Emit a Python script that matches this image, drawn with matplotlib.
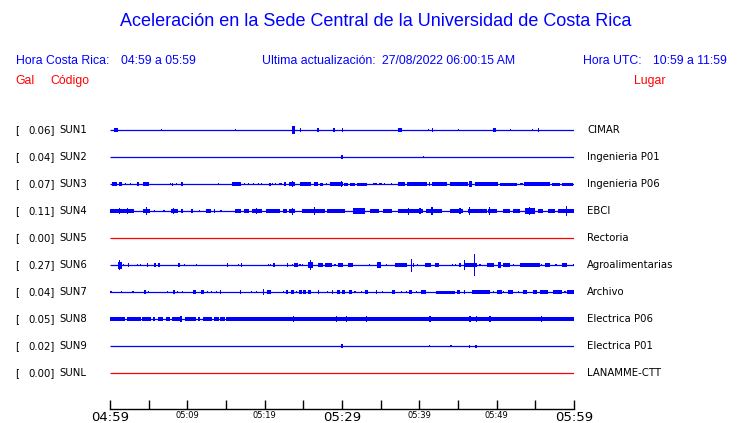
import numpy as np
import matplotlib
matplotlib.use('Agg')
import matplotlib.pyplot as plt
import matplotlib.transforms as mtransforms

# --- data ------------------------------------------------------------------
codes = ['SUN1', 'SUN2', 'SUN3', 'SUN4', 'SUN5', 'SUN6', 'SUN7', 'SUN8', 'SUN9', 'SUNL']
places = ['CIMAR', 'Ingenieria P01', 'Ingenieria P06', 'EBCI', 'Rectoria',
          'Agroalimentarias', 'Archivo', 'Electrica P06', 'Electrica P01', 'LANAMME-CTT']
peak_gal = [0.06, 0.04, 0.07, 0.11, 0.00, 0.27, 0.04, 0.05, 0.02, 0.00]
active = [True, True, True, True, False, True, True, True, True, False]

time_span = [0, 60]  # minutes after 04:59
tick_minutes = [0, 5, 10, 15, 20, 25, 30, 35, 40, 45, 50, 55, 60]
label_minutes = [0, 10, 20, 30, 40, 50, 60]
tick_texts = ['04:59', '05:09', '05:19', '05:29', '05:39', '05:49', '05:59']
big_labels = ['04:59', '05:29', '05:59']

# bursts per station: (start min, end min, half amplitude in trace spacings)
sun1 = [(0.56, 1.07, 0.09), (6.63, 6.63, 0.05), (16.2, 16.2, 0.05), (23.57, 23.92, 0.13),
        (24.65, 24.65, 0.07), (26.72, 27.07, 0.065), (28.79, 29.09, 0.06), (29.95, 30.13, 0.09),
        (37.28, 37.71, 0.09), (41.16, 41.16, 0.05), (41.72, 41.72, 0.065), (45.04, 45.04, 0.05),
        (49.57, 49.91, 0.075), (51.81, 51.81, 0.05), (54.65, 54.65, 0.05), (55.39, 55.39, 0.075)]
sun2 = [(30.0, 30.0, 0.075), (40.5, 40.5, 0.05)]
sun3 = [(0.21, 0.86, 0.06), (1.16, 1.5, 0.06), (2.02, 2.02, 0.05), (2.67, 2.67, 0.05),
        (3.44, 3.75, 0.06), (4.31, 5.08, 0.06), (7.84, 7.84, 0.05), (8.14, 8.14, 0.055),
        (8.57, 8.57, 0.05), (9.22, 9.39, 0.06), (14.0, 14.0, 0.03), (15.8, 16.94, 0.06),
        (17.45, 17.45, 0.05), (17.88, 17.88, 0.05), (18.57, 18.57, 0.05), (19.18, 19.18, 0.05),
        (19.61, 19.61, 0.05), (20.56, 20.82, 0.055), (21.03, 21.03, 0.05), (21.46, 21.46, 0.05),
        (21.89, 22.2, 0.05), (22.63, 22.63, 0.09), (23.19, 23.92, 0.08), (23.57, 23.57, 0.12),
        (24.57, 25.94, 0.065), (26.42, 26.94, 0.06), (27.15, 27.58, 0.055), (28.01, 28.01, 0.05),
        (28.44, 30.17, 0.07), (29.95, 29.95, 0.1), (30.26, 30.82, 0.055), (31.03, 31.68, 0.055),
        (31.9, 33.19, 0.055), (34.05, 34.48, 0.05), (34.83, 35.13, 0.05), (35.47, 35.47, 0.04),
        (36.42, 36.42, 0.04), (37.28, 38.15, 0.065), (38.36, 40.95, 0.06), (41.29, 41.29, 0.09),
        (41.59, 43.53, 0.06), (43.96, 46.33, 0.065), (46.46, 46.77, 0.1), (47.2, 50.21, 0.06),
        (47.41, 47.41, 0.09), (50.43, 52.58, 0.055), (53.02, 53.36, 0.05), (53.58, 56.9, 0.06),
        (54.22, 54.22, 0.09), (57.2, 58.19, 0.055), (58.4, 59.91, 0.055)]
sun4 = [(0.0, 3.14, 0.07), (1.2, 1.2, 0.11), (2.24, 2.24, 0.11), (4.31, 5.17, 0.09),
        (4.74, 4.74, 0.16), (5.8, 5.8, 0.05), (6.98, 6.98, 0.05), (7.88, 8.75, 0.09),
        (8.19, 8.19, 0.11), (9.18, 9.39, 0.09), (10.47, 10.77, 0.065), (11.55, 11.55, 0.05),
        (12.37, 13.06, 0.07), (13.57, 13.57, 0.06), (14.35, 14.35, 0.05), (16.16, 16.94, 0.09),
        (17.37, 17.97, 0.07), (18.32, 19.61, 0.09), (18.96, 18.96, 0.12), (20.13, 21.98, 0.08),
        (22.32, 22.84, 0.075), (23.19, 23.92, 0.09), (23.57, 23.57, 0.13), (24.78, 27.8, 0.085),
        (26.42, 26.42, 0.14), (28.01, 30.38, 0.075), (31.46, 32.97, 0.095), (32.24, 32.24, 0.12),
        (33.62, 34.78, 0.075), (35.34, 36.42, 0.07), (37.28, 40.52, 0.08), (38.58, 38.58, 0.13),
        (40.09, 40.09, 0.1), (40.86, 42.89, 0.08), (41.64, 41.64, 0.15), (43.96, 45.69, 0.075),
        (45.26, 45.26, 0.1), (46.33, 48.71, 0.07), (46.46, 46.46, 0.15), (48.92, 50.0, 0.09),
        (49.05, 49.05, 0.15), (50.77, 51.72, 0.07), (52.15, 53.02, 0.065), (53.66, 54.96, 0.1),
        (54.22, 54.22, 0.16), (55.39, 56.03, 0.07), (56.68, 57.54, 0.07), (57.97, 60.0, 0.085),
        (59.05, 59.05, 0.19)]
sun5 = []
sun6 = [(0.99, 1.59, 0.13), (1.25, 1.25, 0.19), (1.72, 1.72, 0.05), (2.45, 2.45, 0.09),
        (3.53, 3.53, 0.05), (4.0, 4.0, 0.05), (4.78, 4.95, 0.06), (5.73, 5.9, 0.06),
        (6.25, 6.46, 0.06), (8.83, 9.0, 0.06), (9.61, 9.61, 0.05), (11.2, 11.2, 0.05),
        (15.08, 15.3, 0.09), (16.59, 16.59, 0.05), (16.98, 16.98, 0.08), (20.47, 20.47, 0.05),
        (20.73, 20.73, 0.05), (21.03, 21.33, 0.06), (22.84, 23.06, 0.06), (23.57, 23.57, 0.05),
        (23.83, 24.35, 0.07), (24.57, 24.57, 0.05), (24.91, 24.91, 0.05), (25.64, 26.29, 0.12),
        (25.94, 25.94, 0.2), (26.94, 27.58, 0.07), (27.8, 28.75, 0.09), (29.09, 29.09, 0.05),
        (29.44, 30.17, 0.065), (30.82, 31.38, 0.09), (33.53, 33.53, 0.04), (34.57, 35.0, 0.11),
        (35.77, 35.77, 0.05), (36.85, 38.36, 0.07), (38.96, 38.96, 0.24), (39.22, 39.22, 0.09),
        (39.78, 39.78, 0.05), (40.73, 41.46, 0.09), (42.02, 42.54, 0.06), (44.31, 44.31, 0.05),
        (44.7, 44.7, 0.05), (45.13, 45.34, 0.06), (45.82, 45.82, 0.19), (45.9, 47.5, 0.09),
        (47.11, 47.11, 0.42), (47.84, 47.84, 0.05), (48.71, 49.66, 0.09), (50.21, 50.52, 0.11),
        (50.86, 51.72, 0.06), (52.15, 52.15, 0.05), (53.02, 55.6, 0.065), (55.82, 55.82, 0.05),
        (56.25, 56.9, 0.09), (57.67, 57.67, 0.05), (58.4, 59.05, 0.09), (59.91, 59.91, 0.05)]
sun7 = [(0.13, 0.13, 0.05), (1.51, 1.51, 0.05), (2.97, 2.97, 0.05), (4.44, 4.61, 0.065),
        (4.95, 4.95, 0.05), (7.45, 7.45, 0.05), (8.1, 8.4, 0.075), (8.75, 8.75, 0.05),
        (9.35, 9.35, 0.05), (10.77, 11.07, 0.065), (11.76, 12.11, 0.075), (12.58, 12.58, 0.05),
        (13.14, 13.14, 0.05), (13.79, 13.79, 0.05), (14.31, 14.31, 0.075), (16.89, 16.89, 0.075),
        (18.32, 18.32, 0.05), (19.0, 19.0, 0.05), (19.87, 19.87, 0.11), (20.26, 20.77, 0.065),
        (22.41, 22.41, 0.05), (22.75, 22.97, 0.065), (23.36, 23.79, 0.075), (24.13, 24.13, 0.05),
        (24.48, 24.78, 0.065), (25.0, 25.3, 0.065), (25.56, 25.99, 0.065), (26.94, 26.94, 0.065),
        (28.14, 28.14, 0.05), (28.66, 28.88, 0.065), (29.39, 29.7, 0.075), (30.04, 30.38, 0.065),
        (30.95, 31.25, 0.065), (31.68, 31.68, 0.05), (32.54, 32.54, 0.05), (32.97, 33.4, 0.075),
        (34.4, 34.57, 0.06), (35.26, 35.26, 0.05), (36.42, 36.85, 0.09), (37.71, 37.71, 0.05),
        (38.36, 38.36, 0.05), (38.66, 39.01, 0.065), (39.65, 39.65, 0.05), (40.21, 40.86, 0.075),
        (42.11, 44.61, 0.055), (44.83, 45.26, 0.06), (45.82, 45.82, 0.075), (46.77, 49.14, 0.065),
        (49.57, 49.57, 0.05), (50.0, 50.65, 0.09), (50.86, 50.86, 0.05), (51.51, 52.15, 0.065),
        (52.8, 52.8, 0.05), (53.36, 53.88, 0.06), (54.74, 55.17, 0.09), (55.6, 56.68, 0.065),
        (57.33, 58.4, 0.065), (58.84, 58.84, 0.05), (59.05, 60.0, 0.075)]
sun8 = [(0.0, 1.94, 0.065), (2.15, 4.0, 0.065), (4.18, 5.3, 0.065), (5.6, 5.8, 0.06),
        (6.16, 6.89, 0.065), (7.19, 7.76, 0.06), (7.97, 9.05, 0.065), (9.18, 9.18, 0.11),
        (9.7, 11.07, 0.065), (11.33, 11.63, 0.06), (12.06, 13.23, 0.065), (13.49, 14.09, 0.065),
        (14.22, 14.87, 0.065), (14.99, 60.0, 0.065), (23.7, 23.7, 0.11), (29.31, 29.31, 0.11),
        (30.04, 30.04, 0.09), (30.6, 30.6, 0.1), (33.19, 33.19, 0.11), (41.38, 41.38, 0.1),
        (46.55, 46.55, 0.1), (47.41, 47.41, 0.1), (49.14, 49.14, 0.1), (49.78, 49.78, 0.09),
        (55.82, 55.82, 0.11), (56.55, 56.55, 0.09), (58.19, 60.0, 0.08)]
sun9 = [(30.0, 30.0, 0.06), (41.3, 41.3, 0.035), (44.1, 44.1, 0.035), (46.5, 46.5, 0.055),
        (47.2, 47.5, 0.055)]
sunl = []
bursts = [sun1, sun2, sun3, sun4, sun5, sun6, sun7, sun8, sun9, sunl]

# --- figure -----------------------------------------------------------------
W, H = 740, 423
fig = plt.figure(figsize=(W / 100, H / 100), dpi=100)
ax = fig.add_axes([110 / W, 1 - 409 / H, 464 / W, (409 - 116.5) / H])

blue = '#0000ff'
red = '#ff0000'
head_font = 'Liberation Sans'

for i, code in enumerate(codes):
    off = -i
    col = blue if active[i] else red
    ax.plot(time_span, [off, off], color=col, lw=0.9, solid_capstyle='butt')
    for t0, t1, amp in bursts[i]:
        w = max(t1 - t0, 0.14)
        ax.bar((t0 + t1) / 2, 2 * amp, width=w, bottom=off - amp, color=col, linewidth=0)

ax.set_xlim(time_span)
ax.set_ylim(-10.33, 0.5)
for s in ['top', 'left', 'right']:
    ax.spines[s].set_visible(False)
ax.spines['bottom'].set_linewidth(1.0)
ax.set_yticks([])
ax.set_xticks(tick_minutes)
lbls = ['' for m in tick_minutes]
for m, t in zip(label_minutes, tick_texts):
    lbls[tick_minutes.index(m)] = t
ax.set_xticklabels(lbls)
ax.tick_params(axis='x', direction='in', length=6.5, width=1.0, pad=1.5, colors='black')
for lab in ax.get_xticklabels():
    lab.set_fontsize(9.5 if lab.get_text() in big_labels else 6)

# row labels: x in figure fraction, y in data
tr = mtransforms.blended_transform_factory(fig.transFigure, ax.transData)
for i, code in enumerate(codes):
    y = -i
    fig.text(15 / W, y, '[', transform=tr, fontsize=7.3, va='center', ha='left')
    fig.text(55 / W, y, '%.2f]' % peak_gal[i], transform=tr, fontsize=7.3, va='center', ha='right')
    fig.text(59 / W, y, code, transform=tr, fontsize=7.3, va='center', ha='left')
    fig.text(587 / W, y, places[i], transform=tr, fontsize=7.3, va='center', ha='left')

# header
def px(x, y):
    return x / W, 1 - y / H

fs = 8.8
fig.text(*px(376, 22), 'Aceleración en la Sede Central de la Universidad de Costa Rica',
         color=blue, fontsize=13, family=head_font, ha='center', va='center')
fig.text(*px(15.6, 61), 'Hora Costa Rica:', color=blue, fontsize=fs, family=head_font, va='center')
fig.text(*px(121, 61), '04:59 a 05:59', color=blue, fontsize=fs, family=head_font, va='center')
fig.text(*px(261.6, 61), 'Ultima actualización:', color=blue, fontsize=fs, family=head_font, va='center')
fig.text(*px(381.5, 61), '27/08/2022 06:00:15 AM', color=blue, fontsize=fs, family=head_font, va='center')
fig.text(*px(583, 61), 'Hora UTC:', color=blue, fontsize=fs, family=head_font, va='center')
fig.text(*px(652.6, 61), '10:59 a 11:59', color=blue, fontsize=fs, family=head_font, va='center')
fig.text(*px(15.6, 81), 'Gal', color=red, fontsize=fs, family=head_font, va='center')
fig.text(*px(50.7, 81), 'Código', color=red, fontsize=fs, family=head_font, va='center')
fig.text(*px(633.6, 81), 'Lugar', color=red, fontsize=fs, family=head_font, va='center')

fig.savefig('out.png', dpi=100)
